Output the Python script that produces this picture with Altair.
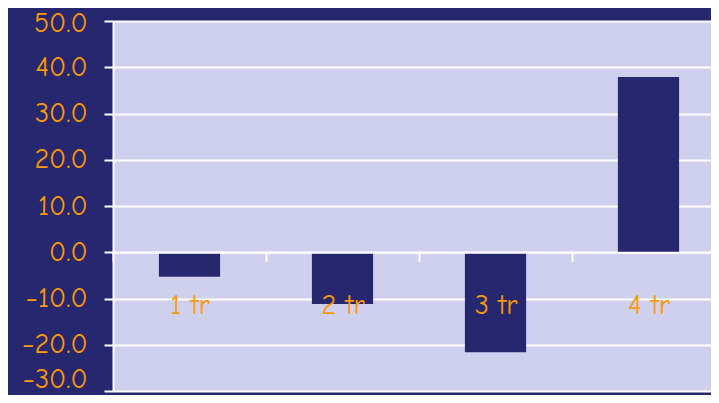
import altair as alt
import pandas as pd

quarters = ["1 tr", "2 tr", "3 tr", "4 tr"]
values = [-5.3, -11.2, -21.6, 37.9]
y_ticks = [-30, -20, -10, 0, 10, 20, 30, 40, 50]

NAVY = "#27276f"
PLOT = "#cfcfee"
ORANGE = "#ff9900"
FONT = "Comic Sans MS, Comic Neue, Open Sans, sans-serif"

df = pd.DataFrame({"q": quarters, "v": values})

H = 370
zero_offset = -(H * 30 / 80)

chart = alt.Chart(df).mark_bar(color=NAVY, width=alt.RelativeBandSize(0.4)).encode(
    x=alt.X(
        "q:N", sort=quarters, title=None,
        scale=alt.Scale(paddingInner=0, paddingOuter=0),
        axis=alt.Axis(
            orient="bottom", offset=zero_offset, zindex=1,
            domain=True, domainColor="white", domainWidth=2,
            ticks=True, tickColor="white", tickWidth=2, tickSize=9, tickBand="extent",
            labelColor=ORANGE, labelFont=FONT, labelFontSize=28, labelPadding=30,
            labelAngle=0, grid=False,
        ),
    ),
    y=alt.Y(
        "v:Q", title=None,
        scale=alt.Scale(domain=[-30, 50], nice=False, zero=False),
        axis=alt.Axis(
            values=y_ticks, format=".1f",
            domain=True, domainColor="white", domainWidth=2,
            ticks=True, tickColor="white", tickWidth=2, tickSize=9,
            grid=True, gridColor="white", gridWidth=2, gridOpacity=1,
            labelColor=ORANGE, labelFont=FONT, labelFontSize=28, labelPadding=17,
            labelBaseline={"condition": {"test": "datum.value == -30", "value": "bottom"}, "value": "middle"},
            labelOffset={"condition": {"test": "datum.value == 50 || datum.value == -30", "value": 2}, "value": 0},
        ),
    ),
).properties(
    width=612, height=H,
    autosize=alt.AutoSizeParams(type="none"),
    padding={"left": 105, "top": 13, "right": -14, "bottom": 4},
    background=NAVY,
).configure_view(fill=PLOT, stroke=None)

chart.save("out.html", embed_options={"renderer": "svg", "actions": False})
